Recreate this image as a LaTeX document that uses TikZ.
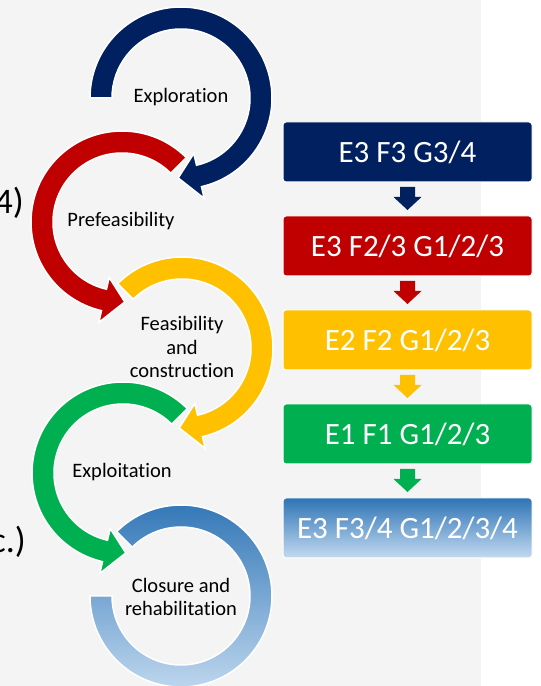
\documentclass[tikz,border=0pt]{standalone}
\usepackage{fontspec}
\setmainfont{Carlito}[Ligatures=NoCommon]
\usetikzlibrary{positioning,calc}
\definecolor{navyblue}{HTML}{002060}
\definecolor{darkred}{HTML}{C00000}
\definecolor{amber}{HTML}{FFC000}
\definecolor{leafgreen}{HTML}{00B050}
\definecolor{skytop}{HTML}{2E74B5}
\definecolor{skybot}{HTML}{C3DAF0}
\definecolor{slide}{HTML}{F4F4F4}
% clockwise ring arrow: centre, start angle, colour
\newcommand{\cwring}[3]{%
  \begin{scope}[shift={#1}]
    \filldraw[ring,fill=#3] (#2:91) arc[start angle=#2,end angle=-77,radius=91]
      -- (-77:103) -- (-92:80) -- (-77:57) -- (-77:69)
      arc[start angle=-77,end angle=#2,radius=69] -- cycle;
  \end{scope}}
% counter-clockwise ring arrow
\newcommand{\ccwring}[3]{%
  \begin{scope}[shift={#1}]
    \filldraw[ring,fill=#3] (#2:91) arc[start angle=#2,end angle=257,radius=91]
      -- (257:103) -- (272:80) -- (257:57) -- (257:69)
      arc[start angle=257,end angle=#2,radius=69] -- cycle;
  \end{scope}}

\begin{document}
\begin{tikzpicture}[x=1pt,y=1pt,
    ring/.style={draw=white,line width=1.5pt},
    ringlabel/.style={align=center,inner sep=0pt,font=\fontsize{20.5}{23.5}\selectfont},
    stagebox/.style={rectangle,rounded corners=3pt,draw=white,line width=1pt,outer sep=0pt,
      minimum width=249pt,minimum height=60pt,text=white,font=\fontsize{31}{36}\selectfont},
    frag/.style={anchor=east,inner sep=0pt,font=\fontsize{36}{40}\selectfont}]
   \useasboundingbox (0,0) rectangle (541,686);
   \fill[white] (0,0) rectangle (541,686);
   \fill[slide] (0,0) rectangle (481,686);
   % cut-off text at the left edge
   \node[frag] (frag1) at (24,483) {4)};
   \node[frag] (frag2) at (26,144) {c.)};
   % ring arrows
   \cwring{(181,588)}{180}{navyblue}
   \ccwring{(122,464)}{45}{darkred}
   \cwring{(182,338)}{135}{amber}
   \ccwring{(123,213)}{45}{leafgreen}
   \begin{scope}[shift={(181,90)}]
     \path[ring,top color=skytop,bottom color=skybot] (135:91) arc[start angle=135,end angle=-180,radius=91]
       -- (180:69) arc[start angle=-180,end angle=135,radius=69] -- cycle;
   \end{scope}
   \node[ringlabel] (explo) at (181,589) {Exploration};
   \node[ringlabel] (prefeas) at (121,465) {Prefeasibility};
   \node[ringlabel] (feas) at (182,339) {Feasibility\\and\\construction};
   \node[ringlabel] (exploit) at (122,214) {Exploitation};
   \node[ringlabel] (closure) at (181,89) {Closure and\\rehabilitation};
   % classification boxes
   \node[stagebox,fill=navyblue] (b1) at (407.5,534) {E3 F3 G3/4};
   \node[stagebox,fill=darkred,below=34pt of b1] (b2) {E3 F2/3 G1/2/3};
   \node[stagebox,fill=amber,below=34pt of b2] (b3) {E2 F2 G1/2/3};
   \node[stagebox,fill=leafgreen,below=34pt of b3] (b4) {E1 F1 G1/2/3};
   \node[stagebox,top color=skytop,bottom color=skybot,below=34pt of b4] (b5) {E3 F3/4 G1/2/3/4};
   \foreach \from/\to/\col in {b1/b2/navyblue,b2/b3/darkred,b3/b4/amber,b4/b5/leafgreen}
     \fill[\col] ($(\from.south)+(-7.5,-5)$) -- ($(\from.south)+(7.5,-5)$) -- ($(\from.south)+(7.5,-15)$)
       -- ($(\from.south)+(14,-15)$) -- ($(\to.north)+(0,6)$) -- ($(\from.south)+(-14,-15)$)
       -- ($(\from.south)+(-7.5,-15)$) -- cycle;
\end{tikzpicture}
\end{document}
